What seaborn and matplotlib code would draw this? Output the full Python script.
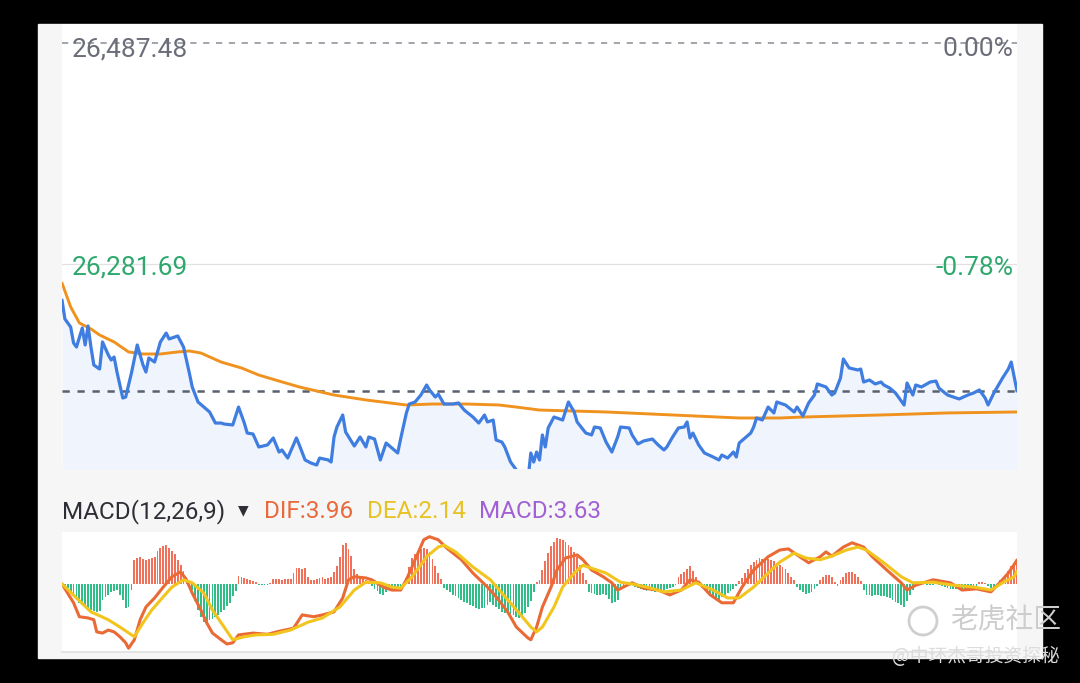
import numpy as np
import pandas as pd
import seaborn as sns
import matplotlib.pyplot as plt
from matplotlib.patches import Rectangle, Ellipse

# intraday index, minutes since open (0..330)
price_t = [0, 1, 3, 4, 5, 7, 8, 9, 10, 11,
           13, 14, 16, 17, 18, 19, 21, 22, 24, 26,
           28, 29, 30, 32, 34, 36, 37, 39, 40, 42,
           44, 45, 47, 49, 51, 53, 55, 56, 59, 61,
           63, 64, 66, 68, 71, 73, 75, 76, 78, 81,
           82, 84, 86, 88, 89, 92, 93, 94, 95, 97,
           98, 101, 103, 105, 106, 108, 110, 112, 114, 116,
           117, 119, 120, 122, 124, 126, 127, 129, 130, 132,
           135, 137, 139, 142, 144, 146, 147, 149, 150, 152,
           153, 155, 157, 158, 160, 161, 162, 163, 164, 165,
           166, 167, 168, 170, 172, 173, 175, 177, 178, 181,
           183, 184, 186, 188, 190, 192, 193, 196, 197, 199,
           201, 204, 206, 208, 209, 211, 213, 215, 216, 217,
           218, 220, 222, 225, 227, 228, 230, 232, 233, 234,
           236, 238, 239, 240, 242, 244, 246, 247, 250, 253,
           254, 256, 258, 260, 261, 264, 266, 267, 269, 270,
           272, 275, 276, 277, 279, 281, 283, 284, 286, 288,
           291, 292, 294, 295, 297, 300, 302, 303, 306, 309,
           310, 313, 315, 317, 319, 320, 322, 323, 325, 327,
           328, 330]
price = [26248.2, 26230.5, 26223.0, 26208.1, 26204.4, 26222.1, 26206.3, 26224.0, 26204.4, 26187.6,
         26183.9, 26209.1, 26197.0, 26192.3, 26195.1, 26181.1, 26156.9, 26157.8, 26180.2, 26206.3,
         26187.6, 26181.1, 26194.2, 26190.4, 26209.1, 26217.4, 26211.9, 26213.7, 26214.7, 26204.4,
         26180.2, 26167.2, 26153.2, 26148.5, 26143.9, 26133.6, 26133.6, 26132.7, 26131.8, 26148.5,
         26133.6, 26124.3, 26123.4, 26111.3, 26113.2, 26119.7, 26106.6, 26108.5, 26101.0, 26119.7,
         26113.2, 26099.2, 26096.4, 26094.5, 26101.0, 26099.2, 26097.3, 26120.6, 26129.9, 26141.1,
         26125.3, 26112.2, 26120.6, 26111.3, 26120.6, 26118.7, 26099.2, 26115.0, 26110.4, 26105.7,
         26118.7, 26143.0, 26151.3, 26153.2, 26159.7, 26169.0, 26164.4, 26157.8, 26160.6, 26151.3,
         26151.3, 26152.3, 26145.7, 26139.2, 26133.6, 26141.1, 26134.6, 26136.4, 26117.8, 26115.9,
         26111.3, 26097.3, 26089.9, 26080.6, 26075.0, 26080.6, 26105.7, 26097.3, 26106.6, 26099.2,
         26122.5, 26111.3, 26129.0, 26139.2, 26137.4, 26136.4, 26153.2, 26143.9, 26134.6, 26124.3,
         26122.5, 26129.9, 26129.0, 26115.9, 26106.6, 26120.6, 26129.9, 26129.0, 26122.5, 26114.1,
         26116.9, 26118.7, 26113.2, 26108.5, 26111.3, 26120.6, 26129.0, 26129.9, 26134.6, 26119.7,
         26124.3, 26113.2, 26105.7, 26102.0, 26099.2, 26103.8, 26101.0, 26106.6, 26102.0, 26115.0,
         26119.7, 26124.3, 26129.9, 26138.3, 26136.4, 26148.5, 26143.0, 26153.2, 26150.4, 26143.9,
         26148.5, 26140.2, 26152.3, 26159.7, 26170.0, 26167.2, 26159.7, 26161.6, 26175.5, 26193.2,
         26184.9, 26183.0, 26183.9, 26171.8, 26173.7, 26170.0, 26171.8, 26169.0, 26166.2, 26161.6,
         26150.4, 26170.9, 26159.7, 26169.0, 26167.2, 26171.8, 26172.7, 26166.2, 26159.7, 26156.9,
         26156.0, 26159.7, 26161.6, 26164.4, 26156.9, 26150.4, 26161.6, 26166.2, 26175.5, 26183.9,
         26190.4, 26163.4]

# average price line
ma_t = [0, 3, 6, 10, 13, 18, 23, 28, 34, 40, 44, 48, 55, 62, 68, 75, 82, 94, 105,
        119, 128, 140, 151, 157, 165, 188, 211, 234, 248, 256, 283, 306, 330]
ma = [26264.0, 26241.7, 26226.8, 26221.2, 26215.6, 26209.1, 26199.8, 26197.9, 26197.9,
      26199.8, 26200.7, 26198.8, 26190.4, 26184.9, 26178.3, 26172.7, 26167.2, 26159.7,
      26155.1, 26150.4, 26151.3, 26151.3, 26150.4, 26148.5, 26145.7, 26143.9, 26141.1,
      26138.3, 26138.3, 26139.2, 26141.1, 26143.0, 26143.9]

high_price = 26487.48
mid_price = 26281.69
high_pct = "0.00%"
mid_pct = "-0.78%"

# MACD(12,26,9)
dif_t = [0, 4, 6, 9, 11, 12, 14, 16, 18, 20, 22, 23, 25, 27, 29, 32, 35, 38, 41, 43,
         45, 48, 50, 52, 55, 57, 59, 61, 66, 71, 75, 80, 83, 87, 90, 94, 97, 99, 101, 105,
         107, 111, 114, 117, 119, 123, 125, 127, 130, 133, 138, 142, 147, 150, 154, 157, 161, 162, 164, 166,
         169, 171, 174, 178, 180, 183, 187, 190, 192, 194, 197, 201, 206, 210, 214, 217, 220, 224, 228, 232,
         235, 239, 244, 248, 251, 254, 258, 262, 264, 266, 270, 273, 277, 280, 285, 290, 292, 295, 301, 307,
         311, 316, 321, 324, 327, 329, 330]
dif = [0.0, -3.1, -5.4, -5.6, -5.9, -7.9, -8.1, -7.6, -7.9, -8.7, -9.7, -10.6, -9.2, -5.9, -3.8, -2.3, -0.5, 1.2, 2.0, 0.7,
       -1.5, -4.3, -6.4, -8.1, -9.2, -9.9, -9.7, -8.4, -8.1, -8.3, -7.8, -7.3, -5.1, -5.4, -5.1, -4.6, -2.3, 0.7, 1.2, 1.0,
       0.7, -0.5, -1.0, -1.0, 0.7, 5.1, 7.3, 7.8, 7.3, 5.9, 4.0, 1.8, -0.5, -2.1, -4.6, -7.1, -8.9, -9.2, -7.1, -3.8,
       -0.5, 2.3, 4.3, 4.8, 4.0, 2.3, 1.2, 0.2, -1.0, -0.5, 0.2, -0.7, -1.0, -1.8, -1.0, 0.7, 0.3, -1.8, -3.1, -3.1,
       -0.5, 2.3, 4.5, 5.6, 5.8, 4.8, 3.5, 4.5, 5.3, 4.6, 6.1, 6.8, 6.1, 4.5, 2.3, 0.2, -1.0, -0.2, 0.7, 0.2,
       -1.0, -0.8, -1.3, 0.2, 1.8, 3.2, 3.96]

dea_t = [0, 5, 10, 16, 20, 25, 28, 31, 35, 38, 42, 45, 49, 52, 56, 59, 63, 67, 73, 79,
         85, 90, 96, 101, 105, 110, 114, 117, 121, 126, 130, 132, 136, 142, 148, 154, 158, 162, 164, 166,
         170, 173, 177, 180, 183, 188, 193, 197, 202, 208, 214, 219, 225, 230, 234, 239, 244, 248, 253, 257,
         262, 266, 271, 275, 278, 284, 290, 294, 301, 308, 315, 321, 325, 329, 330]
dea = [0.0, -2.3, -4.6, -5.9, -7.1, -8.7, -6.4, -4.3, -2.1, -0.5, 0.7, 0.2, -1.5, -4.3, -7.1, -9.2, -8.7, -8.4, -8.3, -7.6,
       -6.3, -5.6, -3.8, -1.0, 0.3, 0.2, -0.5, -0.7, 1.2, 4.5, 6.1, 6.4, 5.3, 2.8, 0.7, -2.6, -4.8, -7.1, -7.9, -7.1,
       -3.8, -0.5, 1.8, 3.1, 2.6, 1.8, 0.3, 0.0, -0.5, -1.3, -1.0, 0.2, -1.0, -2.3, -2.3, -0.5, 1.8, 3.6, 5.1, 4.3,
       4.0, 4.6, 5.6, 6.1, 5.6, 3.5, 1.2, 0.2, 0.3, -0.2, -0.5, -1.0, 0.2, 1.2, 2.14]

# histogram, one bar per minute
macd_hist = [
    -0.2, -0.4, -0.7, -1.5, -2.0, -2.6, -3.1, -3.5, -3.8, -4.1, -4.3, -4.4, -4.6, -4.5, -2.6, -2.1, -1.8, -1.3, -1.1, -1.0,
    -1.8, -2.6, -4.0, -3.8, -1.0,
    4.0, 4.3, 4.5, 4.1, 3.9, 4.2, 4.3, 4.4, 5.4, 6.0, 6.3, 6.4, 6.0, 5.4, 4.9, 4.0, 3.2, 2.2, 1.2,
    -0.4, -1.0, -2.8, -4.3, -5.5, -6.3, -6.2, -5.9, -5.7, -5.4, -5.1, -4.7, -4.3, -3.6, -3.1, -2.0, -1.2,
    1.3, 1.2, 1.0, 0.8, 0.7, 0.5, 0.3,
    -0.2, -0.2, -0.1, -0.2, 0.2,
    0.9, 0.8, 0.9, 0.7, 0.8, 0.9, 0.8,
    1.8, 2.6, 2.7, 2.5, 2.6,
    1.2, 0.7, 0.6, 0.8, 1.0, 1.1, 0.9, 1.0, 1.2,
    2.0, 2.9, 4.5, 6.4, 6.8, 5.8, 4.6, 2.5, 1.6, 1.2, 0.9, 0.6, 0.3,
    -0.3, -0.8, -1.2, -1.6, -1.8, -1.3, -1.0, -0.8, -0.9, -0.8, -0.5,
    0.4, 1.0, 2.8, 4.3, 5.0, 5.4, 5.7, 5.9, 5.7, 5.2, 4.2, 3.0, 1.8, 0.8,
    -0.6, -1.0, -1.4, -1.8, -2.0, -2.3, -2.6, -2.9, -3.1, -3.4, -3.7, -4.0, -4.1, -4.0, -3.9, -3.4,
    -3.0, -3.4, -3.8, -4.2, -4.6, -4.8, -4.9, -5.0, -5.1, -5.4, -5.6, -5.3, -4.8, -3.8, -2.8, -1.4,
    0.3, 0.7, 2.3, 3.8, 5.1, 6.3, 7.0, 7.6, 7.4, 7.2, 6.9, 6.5, 6.1, 5.3, 4.5, 3.2, 1.8, 0.7,
    -1.3, -1.5, -1.7, -1.8, -1.8, -1.7, -1.8, -2.5, -3.1, -2.9, -2.6, -1.0,
    -0.3, 0.2, 0.3, 0.1, -0.5, -0.7, -0.9, -1.0, -1.1, -1.0, -1.2, -1.3, -1.2, -1.1, -1.0, -0.9, -0.7, -0.5, -0.2,
    1.2, 1.6, 2.0, 2.5, 2.9, 2.2, 1.2, 0.4,
    -0.6, -1.0, -1.5, -1.8, -2.1, -2.3, -2.6, -2.2, -1.8, -1.5, -1.2, -0.8, -0.3,
    0.5, 1.0, 1.8, 2.5, 3.2, 3.6, 4.0, 4.3, 4.2, 4.0, 4.1, 4.0, 3.8, 3.5, 3.2, 2.8, 2.4, 1.8, 1.2, 0.6,
    -0.5, -1.0, -1.4, -1.6, -1.5, -1.3, -0.9, -0.4,
    0.6, 1.2, 1.5, 1.5, 1.1, 0.3,
    -0.3, 0.6, 1.2, 1.8, 2.0, 1.9, 1.7, 1.2, 0.5,
    -1.0, -1.8, -1.8, -1.9, -1.8, -1.8, -1.9, -2.0, -2.1, -2.3, -2.6, -2.9, -3.2, -3.5, -3.8, -2.8, -1.8, -1.0,
    -0.4, -0.2, -0.1, 0.1, -0.1, -0.2, -0.1, 0.1, -0.2, -0.3, -0.5, -0.7, -0.8, -0.9, -0.9, -0.8, -0.9, -0.9,
    -0.8, -0.7, -0.6, -0.3, 0.3, 0.4, 0.2, -0.4, -0.6, -0.5, -0.2,
    0.7, 1.0, 1.4, 2.2, 3.0, 3.4, 3.63,
]

sns.set_style('white')
plt.rcParams['font.family'] = ['Roboto', 'DejaVu Sans', 'Noto Sans CJK SC']

W, H = 1080, 683
def fx(px):
    return px / W
def fy(py):
    return 1 - py / H

fig = plt.figure(figsize=(W / 100, H / 100), dpi=100, facecolor='black')
fig.patches.append(Rectangle((fx(38), fy(658)), fx(1042) - fx(38), fy(24) - fy(658),
                             transform=fig.transFigure, color='#f6f6f6', zorder=-5))

# ---- price panel
ax1 = fig.add_axes([fx(62), fy(469), fx(1017) - fx(62), fy(24) - fy(469)])
ax1.set_facecolor('white')
ylo, yhi = 26090.8, 26505.2
ax1.fill_between(price_t, price, ylo, color='#f0f5fd', lw=0, zorder=1)
ax1.axhline(high_price, color='#a3a5ad', lw=1.4, linestyle=(0, (3.2, 3.4)), zorder=1.2)
ax1.axhline(mid_price, color='#e2e2e2', lw=0.9, zorder=1.2)
ax1.axhline(price[-1], color='#59606e', lw=1.8, linestyle=(0, (2.9, 3.1)), zorder=1.5)
sns.lineplot(x=price_t, y=price, ax=ax1, color='#3f7de0', linewidth=2.3, zorder=3)
sns.lineplot(x=ma_t, y=ma, ax=ax1, color='#f0921e', linewidth=2.1, zorder=2.5)
ax1.set_xlim(0, 330)
ax1.set_ylim(ylo, yhi)

# ---- MACD panel
ax2 = fig.add_axes([fx(62), fy(652), fx(1017) - fx(62), fy(532) - fy(652)])
ax2.set_facecolor('white')
hist_df = pd.DataFrame({'t': np.arange(len(macd_hist)), 'v': macd_hist})
hist_df['sign'] = np.where(hist_df['v'] >= 0, 'up', 'down')
sns.barplot(data=hist_df, x='t', y='v', hue='sign', palette={'up': '#f0705a', 'down': '#30bd88'},
            native_scale=True, dodge=False, width=0.62, saturation=1, errorbar=None,
            linewidth=0, legend=False, ax=ax2)
sns.lineplot(x=dif_t, y=dif, ax=ax2, color='#ea6a36', linewidth=2.2, zorder=3)
sns.lineplot(x=dea_t, y=dea, ax=ax2, color='#f2c51e', linewidth=2.2, zorder=3.2)
ax2.set_xlim(0, 330)
ax2.set_ylim(-11.22, 8.58)

for ax in (ax1, ax2):
    ax.set_xticks([])
    ax.set_yticks([])
    ax.set_xlabel('')
    ax.set_ylabel('')
    for s in ax.spines.values():
        s.set_visible(False)
ax2.spines['bottom'].set_visible(True)
ax2.spines['bottom'].set_color('#e4e4e4')
ax2.spines['bottom'].set_linewidth(1.5)

# ---- labels
fig.text(fx(72), fy(56), f"{high_price:,.2f}", color='#6b6d78', fontsize=19, va='baseline')
fig.text(fx(1013), fy(56), high_pct, color='#6b6d78', fontsize=19, va='baseline', ha='right')
fig.text(fx(72), fy(275), f"{mid_price:,.2f}", color='#2fa86e', fontsize=19, va='baseline')
fig.text(fx(1013), fy(275), mid_pct, color='#2fa86e', fontsize=19, va='baseline', ha='right')

fig.text(fx(62), fy(518), "MACD(12,26,9)", color='#2e2f36', fontsize=17.5, va='baseline')
fig.text(fx(238), fy(510), "▼", color='#2e2f36', fontsize=10, va='center', family='DejaVu Sans')
fig.text(fx(264), fy(518), f"DIF:{dif[-1]:.2f}", color='#e9693b', fontsize=17.5, va='baseline')
fig.text(fx(367), fy(518), f"DEA:{dea[-1]:.2f}", color='#e6c223', fontsize=17.5, va='baseline')
fig.text(fx(479), fy(518), f"MACD:{macd_hist[-1]:.2f}", color='#a160d6', fontsize=17.5, va='baseline')

# ---- watermark
fig.patches.append(Ellipse((fx(923), fy(621)), 28 / W, 28 / H, transform=fig.transFigure,
                           fill=False, edgecolor='#cfcfcf', lw=2, zorder=5))
fig.text(fx(950), fy(620), "老虎社区", color='#cdcdcd', fontsize=20, va='center',
         family=['Noto Sans CJK SC', 'DejaVu Sans'])
fig.text(fx(892), fy(657), "@中环杰哥投资探秘", color='#dcdcdc', fontsize=13.5, va='center',
         family=['Noto Sans CJK SC', 'DejaVu Sans'])

fig.savefig('out.png', dpi=100, facecolor='black')
